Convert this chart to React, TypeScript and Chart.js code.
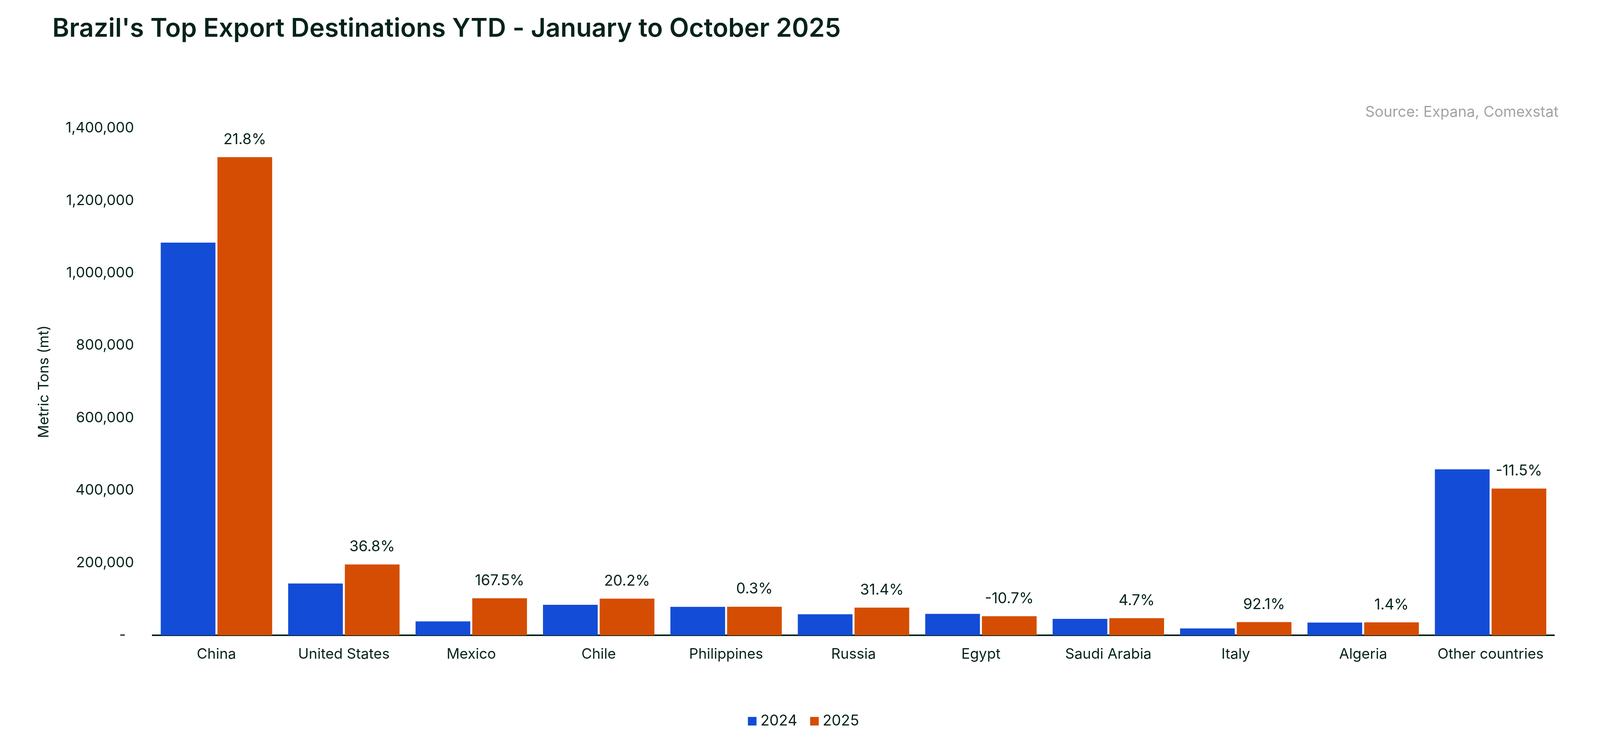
import React, { useEffect, useRef } from 'react';
import { Chart, registerables } from 'chart.js';

Chart.register(...registerables);

const titleText = "Brazil's Top Export Destinations YTD - January to October 2025";
const sourceText = 'Source: Expana, Comexstat';
const yAxisTitle = 'Metric Tons (mt)';

const categories = [
  'China',
  'United States',
  'Mexico',
  'Chile',
  'Philippines',
  'Russia',
  'Egypt',
  'Saudi Arabia',
  'Italy',
  'Algeria',
  'Other countries',
];
const seriesNames = ['2024', '2025'];
const values2024 = [1084000, 143000, 38200, 84000, 78500, 58000, 59000, 45200, 19000, 35000, 458000];
const values2025 = [1320000, 195600, 102200, 101000, 78700, 76200, 52700, 47300, 36500, 35500, 405000];
const changeLabels = ['21.8%', '36.8%', '167.5%', '20.2%', '0.3%', '31.4%', '-10.7%', '4.7%', '92.1%', '1.4%', '-11.5%'];
const yMin = 0;
const yMax = 1400000;
const yStep = 200000;

const TEXT = '#05231a';
const BLUE = '#134cd6';
const ORANGE = '#d54d03';
const GREY = '#a3a3a3';
const FONT = 'Inter, "Noto Sans", sans-serif';

const overlayPlugin = {
  id: 'overlay',
  afterDraw(chart: any) {
    const ctx = chart.ctx;
    ctx.save();
    // title
    ctx.fillStyle = TEXT;
    ctx.font = `600 65.5px ${FONT}`;
    ctx.textAlign = 'left';
    ctx.textBaseline = 'alphabetic';
    ctx.fillText(titleText, 134, 94);

    // source
    ctx.fillStyle = GREY;
    ctx.font = `400 38px ${FONT}`;
    ctx.textAlign = 'right';
    ctx.textBaseline = 'middle';
    ctx.fillText(sourceText, 3990, 288);

    // data labels above 2025 bars
    const meta = chart.getDatasetMeta(1);
    ctx.fillStyle = TEXT;
    ctx.font = `400 38px ${FONT}`;
    ctx.textAlign = 'center';
    ctx.textBaseline = 'middle';
    meta.data.forEach((bar: any, i: number) => {
      ctx.fillText(changeLabels[i], bar.x, bar.y - 45);
    });

    // legend
    const box = 22;
    const gapBoxText = 10;
    const gapItems = 33;
    ctx.font = `400 38px ${FONT}`;
    const items = chart.data.datasets.map((d: any) => ({
      label: d.label,
      color: d.backgroundColor,
      w: ctx.measureText(d.label).width,
    }));
    const total = items.reduce((s: number, it: any) => s + box + gapBoxText + it.w, 0) + gapItems * (items.length - 1);
    let x = 2057 - total / 2;
    const cy = 1846;
    items.forEach((it: any) => {
      ctx.fillStyle = it.color;
      ctx.fillRect(x, cy - box / 2, box, box);
      x += box + gapBoxText;
      ctx.fillStyle = TEXT;
      ctx.textAlign = 'left';
      ctx.textBaseline = 'middle';
      ctx.fillText(it.label, x, cy);
      x += it.w + gapItems;
    });
    ctx.restore();
  },
};

export default function App() {
  const ref = useRef<HTMLCanvasElement | null>(null);

  useEffect(() => {
    if (!ref.current) return;
    const chart = new Chart(ref.current, {
      type: 'bar',
      data: {
        labels: categories,
        datasets: [
          {
            label: seriesNames[0],
            data: values2024,
            backgroundColor: BLUE,
            categoryPercentage: 0.89,
            barPercentage: 0.965,
          },
          {
            label: seriesNames[1],
            data: values2025,
            backgroundColor: ORANGE,
            categoryPercentage: 0.89,
            barPercentage: 0.965,
          },
        ],
      },
      options: {
        animation: false,
        responsive: true,
        maintainAspectRatio: false,
        devicePixelRatio: 1,
        layout: { padding: { top: 328, right: 136, left: 0, bottom: 0 } },
        plugins: {
          legend: { display: false },
          title: { display: false },
          tooltip: { enabled: false },
        },
        scales: {
          x: {
            grid: { display: false, drawTicks: false },
            border: { display: true, color: TEXT, width: 4 },
            ticks: {
              color: TEXT,
              font: { family: FONT, size: 37 },
              padding: 27,
              maxRotation: 0,
              autoSkip: false,
            },
            afterFit: (s: any) => {
              s.height = 286;
            },
          },
          y: {
            min: yMin,
            max: yMax,
            grid: { display: false, drawTicks: false },
            border: { display: false },
            ticks: {
              stepSize: yStep,
              color: TEXT,
              font: { family: FONT, size: 37 },
              padding: 48,
              callback: (v: any) => (Number(v) === 0 ? '-  ' : Number(v).toLocaleString('en-US')),
            },
            title: {
              display: true,
              text: yAxisTitle,
              color: TEXT,
              font: { family: FONT, size: 37 },
              padding: { top: 91, bottom: 0 },
            },
            afterFit: (s: any) => {
              s.width = 391;
            },
          },
        },
      },
      plugins: [overlayPlugin],
    });
    return () => chart.destroy();
  }, []);

  return (
    <div style={{ position: 'fixed', left: 0, top: 0, width: '4115px', height: '1912px', background: '#ffffff' }}>
      <canvas ref={ref} />
    </div>
  );
}
